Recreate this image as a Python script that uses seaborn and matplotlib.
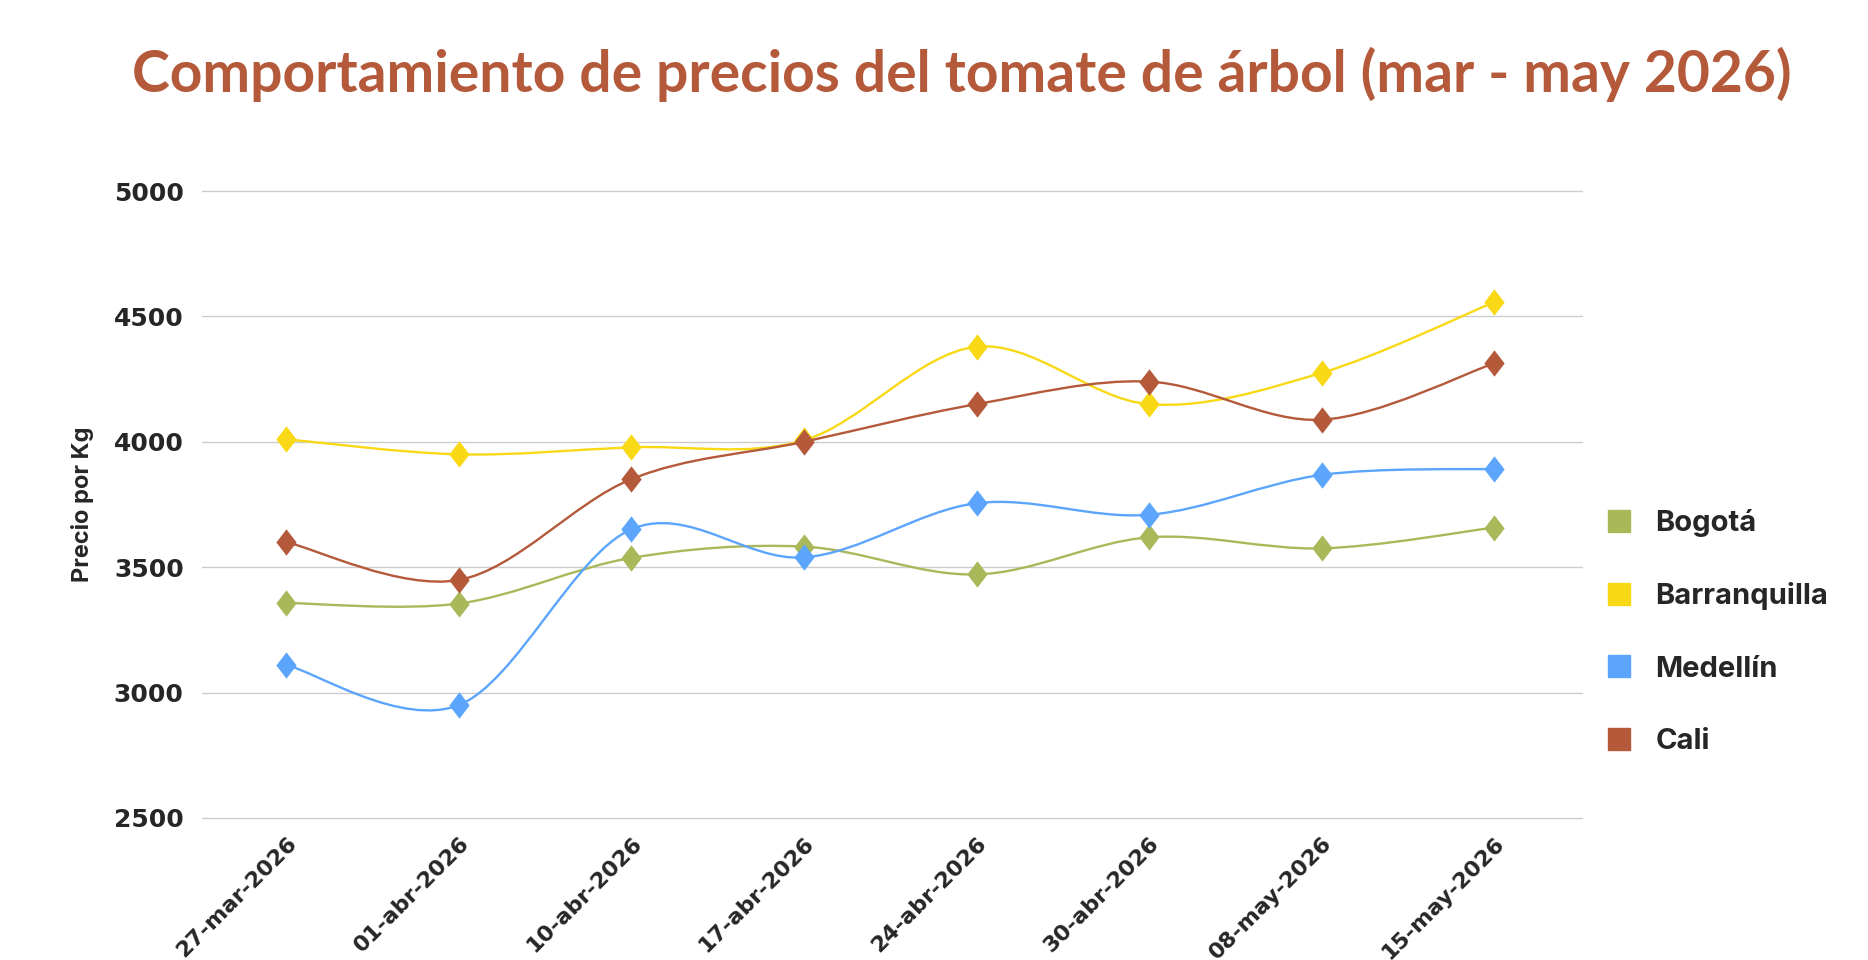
import numpy as np
import pandas as pd
import matplotlib
matplotlib.use('Agg')
import matplotlib.pyplot as plt
from matplotlib.path import Path
from matplotlib.patches import PathPatch
from matplotlib.lines import Line2D
import seaborn as sns

fechas = ['27-mar-2026', '01-abr-2026', '10-abr-2026', '17-abr-2026',
          '24-abr-2026', '30-abr-2026', '08-may-2026', '15-may-2026']
ciudades = ['Bogotá', 'Barranquilla', 'Medellín', 'Cali']
bogota = [3357, 3355, 3537, 3582, 3471, 3619, 3575, 3658]
barranquilla = [4010, 3950, 3978, 4006, 4379, 4150, 4275, 4557]
medellin = [3110, 2950, 3651, 3539, 3755, 3709, 3868, 3892]
cali = [3600, 3449, 3851, 4000, 4150, 4240, 4088, 4313]
colores = ['#A9B95A', '#F9D816', '#5BA5FD', '#B4593A']

df = pd.DataFrame({'fecha': fechas * 4,
                   'pos': list(range(len(fechas))) * 4,
                   'ciudad': np.repeat(ciudades, len(fechas)),
                   'precio': bogota + barranquilla + medellin + cali})

sns.set_style('white')
plt.rcParams['font.family'] = ['DejaVu Sans']

fig = plt.figure(figsize=(18.68, 9.6), dpi=100)
ax = fig.add_axes([0.108, 0.148, 0.739, 0.653])

# diamond a bit taller than wide
diamante = Path([(0, 1), (0.77, 0), (0, -1), (-0.77, 0), (0, 1)],
                [Path.MOVETO, Path.LINETO, Path.LINETO, Path.LINETO, Path.CLOSEPOLY])


def curva_suave(x, y):
    # catmull-rom style smoothing drawn as bezier segments
    pts = np.column_stack([x, y]).astype(float)
    ext = np.vstack([pts[0], pts, pts[-1]])
    verts = [tuple(pts[0])]
    codes = [Path.MOVETO]
    for i in range(len(pts) - 1):
        p0, p1, p2, p3 = ext[i], ext[i + 1], ext[i + 2], ext[i + 3]
        c1 = p1 + (p2 - p0) / 6
        c2 = p2 - (p3 - p1) / 6
        verts += [tuple(c1), tuple(c2), tuple(p2)]
        codes += [Path.CURVE4] * 3
    return Path(verts, codes)


for k, (ciudad, color) in enumerate(zip(ciudades, colores)):
    sub = df[df['ciudad'] == ciudad]
    ax.add_patch(PathPatch(curva_suave(sub['pos'], sub['precio']), fill=False,
                           edgecolor=color, linewidth=1.7, zorder=3 + 2 * k))
    sns.scatterplot(data=sub, x='pos', y='precio', color=color, marker=diamante,
                    s=360, linewidth=0, ax=ax, zorder=4 + 2 * k, legend=False)

ax.set_xlim(-0.49, 7.51)
ax.set_ylim(2500, 5000)
ax.set_yticks([2500, 3000, 3500, 4000, 4500, 5000])
ax.set_xticks(range(len(fechas)))
ax.set_xticklabels(fechas, rotation=45, ha='right', va='top',
                   rotation_mode='anchor', fontsize=16, fontweight='bold')
ax.tick_params(axis='x', pad=11, length=0)
ax.tick_params(axis='y', pad=13, length=0, labelsize=18)
for t in ax.get_yticklabels():
    t.set_fontweight('bold')
ax.grid(axis='y', color='#cccccc', linewidth=1)
for g in ax.get_ygridlines():
    g.set_clip_on(False)
ax.grid(axis='x', visible=False)
for s in ax.spines.values():
    s.set_visible(False)
ax.set_xlabel('')
ax.set_ylabel('Precio por Kg', fontsize=17, fontweight='bold', family='Inter')
ax.yaxis.set_label_coords(-0.078, 0.5)

handles = [Line2D([], [], marker='s', linestyle='', markersize=16, color=c) for c in colores]
leg = fig.legend(handles, ciudades, loc='upper left', bbox_to_anchor=(0.837, 0.497),
                 frameon=False, handletextpad=0.25, labelspacing=1.55,
                 prop={'family': 'Inter', 'weight': 'bold', 'size': 21})

fig.text(0.515, 0.923, 'Comportamiento de precios del tomate de árbol (mar - may 2026)',
         ha='center', va='center', fontsize=41, fontweight='bold', family='Lato',
         color='#B4593A')

fig.savefig('out.png', dpi=100)
